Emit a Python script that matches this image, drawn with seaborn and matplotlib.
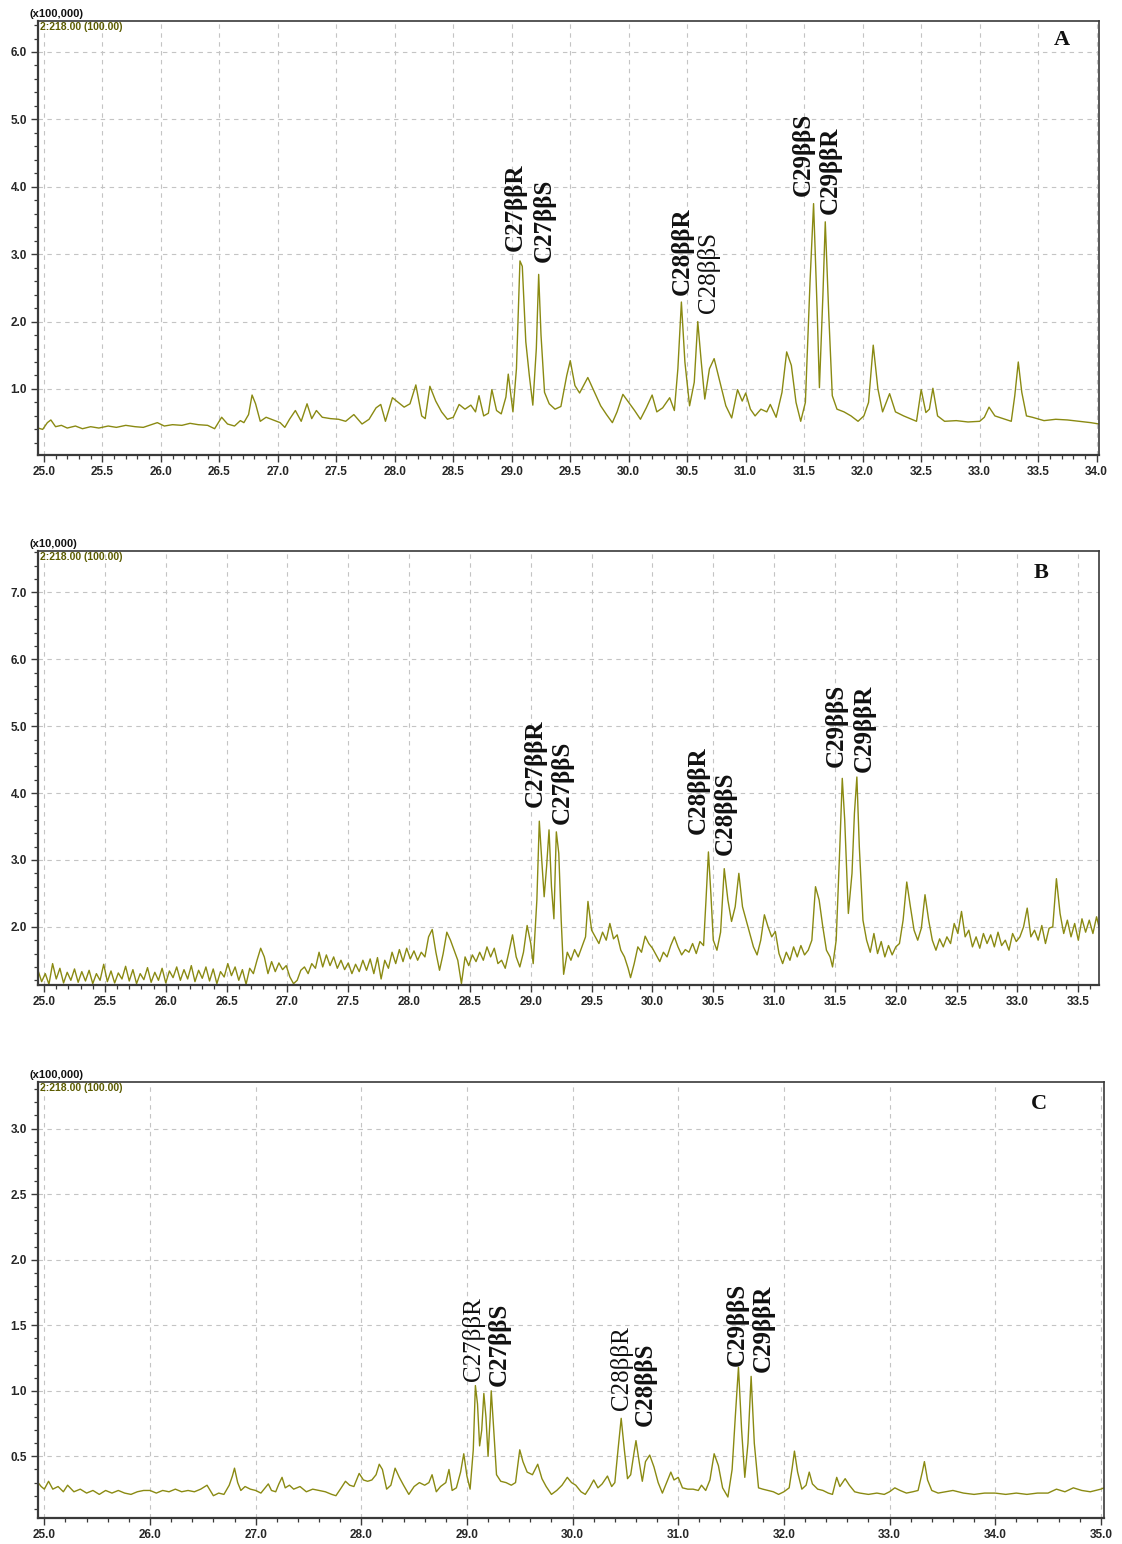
import numpy as np
import pandas as pd
import matplotlib
matplotlib.use("Agg")
import matplotlib.pyplot as plt
from matplotlib.ticker import MultipleLocator, FormatStrFormatter
import seaborn as sns

# ---------------- data ----------------
# Panel A  (intensity x100,000)
A_time = [24.95, 24.99, 25.03, 25.06, 25.10, 25.15, 25.20, 25.27, 25.33, 25.40,
          25.47, 25.55, 25.62, 25.70, 25.78, 25.85, 25.92, 25.97, 26.03, 26.10,
          26.18, 26.25, 26.32, 26.40, 26.46, 26.52, 26.57, 26.63, 26.68, 26.71,
          26.75, 26.78, 26.81, 26.85, 26.90, 26.96, 27.02, 27.06, 27.10, 27.15,
          27.20, 27.25, 27.29, 27.33, 27.38, 27.45, 27.52, 27.58, 27.65, 27.72,
          27.78, 27.84, 27.88, 27.92, 27.98, 28.03, 28.08, 28.13, 28.18, 28.23,
          28.26, 28.30, 28.35, 28.40, 28.45, 28.50, 28.55, 28.60, 28.65, 28.69,
          28.72, 28.76, 28.80, 28.83, 28.87, 28.91, 28.95, 28.97, 29.01, 29.04,
          29.07, 29.09, 29.12, 29.15, 29.18, 29.21, 29.23, 29.25, 29.28, 29.32,
          29.37, 29.42, 29.47, 29.50, 29.54, 29.58, 29.65, 29.70, 29.76, 29.81,
          29.86, 29.90, 29.95, 30.00, 30.05, 30.10, 30.15, 30.20, 30.24, 30.29,
          30.35, 30.39, 30.42, 30.45, 30.48, 30.52, 30.56, 30.59, 30.62, 30.65,
          30.69, 30.73, 30.78, 30.83, 30.88, 30.93, 30.97, 31.00, 31.04, 31.08,
          31.13, 31.18, 31.21, 31.26, 31.31, 31.35, 31.39, 31.43, 31.47, 31.51,
          31.55, 31.58, 31.61, 31.63, 31.66, 31.68, 31.71, 31.74, 31.78, 31.84,
          31.90, 31.96, 32.01, 32.05, 32.09, 32.13, 32.17, 32.23, 32.28, 32.35,
          32.42, 32.46, 32.50, 32.54, 32.57, 32.60, 32.64, 32.70, 32.80, 32.90,
          33.00, 33.04, 33.08, 33.13, 33.20, 33.27, 33.30, 33.33, 33.36, 33.40,
          33.45, 33.55, 33.65, 33.75, 33.85, 33.95, 34.02]
A_value = [0.42, 0.40, 0.50, 0.54, 0.44, 0.46, 0.42, 0.45, 0.41, 0.44,
           0.42, 0.45, 0.43, 0.46, 0.44, 0.43, 0.47, 0.50, 0.45, 0.47,
           0.46, 0.49, 0.47, 0.46, 0.41, 0.58, 0.48, 0.45, 0.53, 0.50,
           0.62, 0.91, 0.78, 0.52, 0.58, 0.54, 0.50, 0.43, 0.55, 0.68,
           0.52, 0.78, 0.56, 0.68, 0.58, 0.56, 0.55, 0.52, 0.62, 0.48,
           0.55, 0.72, 0.77, 0.52, 0.87, 0.80, 0.73, 0.78, 1.06, 0.60,
           0.56, 1.04, 0.82, 0.66, 0.55, 0.58, 0.77, 0.70, 0.76, 0.66,
           0.90, 0.60, 0.64, 0.99, 0.68, 0.63, 0.88, 1.22, 0.66, 1.30,
           2.90, 2.82, 1.70, 1.20, 0.76, 1.60, 2.70, 1.80, 0.95, 0.78,
           0.70, 0.74, 1.20, 1.42, 1.05, 0.94, 1.17, 0.98, 0.75, 0.62,
           0.50, 0.66, 0.92, 0.80, 0.68, 0.55, 0.72, 0.91, 0.66, 0.72,
           0.87, 0.68, 1.30, 2.29, 1.40, 0.75, 1.10, 2.00, 1.40, 0.85,
           1.30, 1.45, 1.10, 0.75, 0.57, 0.99, 0.82, 0.94, 0.70, 0.60,
           0.70, 0.66, 0.77, 0.58, 0.95, 1.55, 1.35, 0.80, 0.52, 0.80,
           2.60, 3.75, 2.20, 1.02, 2.40, 3.48, 2.10, 0.90, 0.70, 0.66,
           0.60, 0.52, 0.60, 0.80, 1.65, 1.00, 0.66, 0.93, 0.66, 0.60,
           0.55, 0.52, 0.99, 0.65, 0.70, 1.01, 0.60, 0.52, 0.53, 0.51,
           0.52, 0.58, 0.73, 0.60, 0.56, 0.52, 0.90, 1.40, 0.95, 0.60,
           0.58, 0.53, 0.55, 0.54, 0.52, 0.50, 0.48]

# Panel B  (intensity x10,000)
B_time = [24.95, 24.98, 25.01, 25.04, 25.07, 25.10, 25.13, 25.16, 25.19, 25.22,
          25.25, 25.28, 25.31, 25.34, 25.37, 25.40, 25.43, 25.46, 25.49, 25.52,
          25.55, 25.58, 25.61, 25.64, 25.67, 25.70, 25.73, 25.76, 25.79, 25.82,
          25.85, 25.88, 25.91, 25.94, 25.97, 26.00, 26.03, 26.06, 26.09, 26.12,
          26.15, 26.18, 26.21, 26.24, 26.27, 26.30, 26.33, 26.36, 26.39, 26.42,
          26.45, 26.48, 26.51, 26.54, 26.57, 26.60, 26.63, 26.66, 26.69, 26.72,
          26.75, 26.78, 26.81, 26.84, 26.87, 26.90, 26.93, 26.96, 26.99, 27.02,
          27.05, 27.08, 27.11, 27.14, 27.17, 27.20, 27.23, 27.26, 27.29, 27.32,
          27.35, 27.38, 27.41, 27.44, 27.47, 27.50, 27.53, 27.56, 27.59, 27.62,
          27.65, 27.68, 27.71, 27.74, 27.77, 27.80, 27.83, 27.86, 27.89, 27.92,
          27.95, 27.98, 28.01, 28.04, 28.07, 28.10, 28.13, 28.16, 28.19, 28.22,
          28.25, 28.28, 28.31, 28.34, 28.37, 28.40, 28.43, 28.46, 28.49, 28.52,
          28.55, 28.58, 28.61, 28.64, 28.67, 28.70, 28.73, 28.76, 28.79, 28.82,
          28.85, 28.88, 28.91, 28.94, 28.97, 29.00, 29.02, 29.05, 29.07, 29.09,
          29.11, 29.13, 29.15, 29.17, 29.19, 29.21, 29.23, 29.25, 29.27, 29.30,
          29.33, 29.36, 29.39, 29.42, 29.45, 29.47, 29.50, 29.53, 29.56, 29.59,
          29.62, 29.65, 29.68, 29.71, 29.74, 29.77, 29.80, 29.82, 29.85, 29.88,
          29.91, 29.94, 29.97, 30.00, 30.03, 30.06, 30.09, 30.12, 30.15, 30.18,
          30.21, 30.24, 30.27, 30.30, 30.33, 30.36, 30.39, 30.42, 30.44, 30.46,
          30.48, 30.50, 30.53, 30.56, 30.59, 30.62, 30.65, 30.68, 30.71, 30.74,
          30.77, 30.80, 30.83, 30.86, 30.89, 30.92, 30.95, 30.98, 31.01, 31.04,
          31.07, 31.10, 31.13, 31.16, 31.19, 31.22, 31.25, 31.28, 31.31, 31.34,
          31.37, 31.40, 31.43, 31.46, 31.48, 31.51, 31.54, 31.56, 31.58, 31.61,
          31.64, 31.66, 31.68, 31.70, 31.73, 31.76, 31.79, 31.82, 31.85, 31.88,
          31.91, 31.94, 31.97, 32.00, 32.03, 32.06, 32.09, 32.12, 32.15, 32.18,
          32.21, 32.24, 32.27, 32.30, 32.33, 32.36, 32.39, 32.42, 32.45, 32.48,
          32.51, 32.54, 32.57, 32.60, 32.63, 32.66, 32.69, 32.72, 32.75, 32.78,
          32.81, 32.84, 32.87, 32.90, 32.93, 32.96, 32.99, 33.02, 33.05, 33.08,
          33.11, 33.14, 33.17, 33.20, 33.23, 33.26, 33.29, 33.32, 33.35, 33.38,
          33.41, 33.44, 33.47, 33.50, 33.53, 33.56, 33.59, 33.62, 33.65, 33.67]
B_value = [1.35, 1.18, 1.30, 1.14, 1.45, 1.22, 1.38, 1.16, 1.32, 1.20,
           1.37, 1.17, 1.33, 1.19, 1.35, 1.15, 1.30, 1.20, 1.44, 1.18,
           1.34, 1.16, 1.31, 1.22, 1.41, 1.19, 1.36, 1.15, 1.30, 1.21,
           1.39, 1.17, 1.32, 1.20, 1.38, 1.16, 1.34, 1.24, 1.40, 1.20,
           1.36, 1.22, 1.42, 1.18, 1.35, 1.23, 1.40, 1.19, 1.37, 1.15,
           1.33, 1.25, 1.45, 1.27, 1.40, 1.20, 1.36, 1.14, 1.38, 1.30,
           1.50, 1.68, 1.55, 1.30, 1.48, 1.33, 1.46, 1.36, 1.42, 1.25,
           1.15, 1.20, 1.35, 1.40, 1.30, 1.45, 1.38, 1.62, 1.40, 1.58,
           1.42, 1.55, 1.38, 1.50, 1.36, 1.46, 1.30, 1.44, 1.33, 1.50,
           1.35, 1.52, 1.30, 1.54, 1.22, 1.50, 1.38, 1.62, 1.45, 1.66,
           1.48, 1.68, 1.52, 1.64, 1.50, 1.62, 1.55, 1.85, 1.96, 1.62,
           1.35, 1.60, 1.92, 1.80, 1.65, 1.50, 1.15, 1.55, 1.42, 1.58,
           1.48, 1.62, 1.50, 1.70, 1.55, 1.68, 1.45, 1.50, 1.38, 1.62,
           1.88, 1.55, 1.40, 1.62, 2.02, 1.75, 1.45, 2.40, 3.58, 3.00,
           2.45, 2.90, 3.45, 2.60, 2.12, 3.42, 3.10, 2.10, 1.29, 1.62,
           1.50, 1.66, 1.55, 1.70, 1.85, 2.38, 1.95, 1.85, 1.75, 1.92,
           1.80, 2.05, 1.82, 1.88, 1.65, 1.55, 1.38, 1.24, 1.45, 1.70,
           1.62, 1.86, 1.75, 1.68, 1.58, 1.48, 1.62, 1.55, 1.72, 1.85,
           1.70, 1.58, 1.66, 1.62, 1.75, 1.60, 1.78, 1.72, 2.40, 3.12,
           2.50, 1.80, 1.65, 1.92, 2.87, 2.40, 2.08, 2.30, 2.80, 2.30,
           2.10, 1.90, 1.70, 1.58, 1.80, 2.18, 2.00, 1.85, 1.93, 1.60,
           1.45, 1.62, 1.50, 1.70, 1.55, 1.72, 1.58, 1.65, 1.80, 2.60,
           2.40, 2.00, 1.65, 1.55, 1.40, 1.80, 3.20, 4.22, 3.60, 2.20,
           2.80, 3.70, 4.24, 3.20, 2.10, 1.80, 1.62, 1.90, 1.60, 1.78,
           1.55, 1.72, 1.58, 1.70, 1.75, 2.10, 2.67, 2.30, 1.95, 1.80,
           1.98, 2.48, 2.10, 1.80, 1.65, 1.82, 1.70, 1.85, 1.75, 2.05,
           1.90, 2.23, 1.85, 1.95, 1.70, 1.85, 1.68, 1.90, 1.75, 1.88,
           1.70, 1.92, 1.72, 1.80, 1.65, 1.90, 1.78, 1.85, 2.00, 2.28,
           1.85, 1.95, 1.80, 2.02, 1.75, 1.98, 2.00, 2.72, 2.20, 1.90,
           2.10, 1.85, 2.05, 1.80, 2.12, 1.92, 2.10, 1.90, 2.15, 2.00]

# Panel C  (intensity x100,000)
C_time = [24.94, 24.97, 25.00, 25.04, 25.08, 25.13, 25.18, 25.22, 25.28, 25.34,
          25.40, 25.46, 25.52, 25.58, 25.64, 25.70, 25.76, 25.82, 25.88, 25.94,
          26.00, 26.06, 26.12, 26.18, 26.24, 26.30, 26.36, 26.42, 26.48, 26.54,
          26.60, 26.65, 26.70, 26.75, 26.78, 26.80, 26.83, 26.86, 26.90, 26.95,
          27.00, 27.05, 27.09, 27.12, 27.15, 27.19, 27.22, 27.25, 27.28, 27.32,
          27.36, 27.42, 27.48, 27.54, 27.60, 27.66, 27.72, 27.76, 27.81, 27.85,
          27.89, 27.93, 27.98, 28.02, 28.06, 28.10, 28.14, 28.17, 28.20, 28.24,
          28.28, 28.32, 28.36, 28.40, 28.45, 28.50, 28.55, 28.60, 28.64, 28.67,
          28.71, 28.75, 28.80, 28.83, 28.86, 28.90, 28.94, 28.97, 29.00, 29.03,
          29.06, 29.08, 29.10, 29.12, 29.14, 29.16, 29.18, 29.20, 29.22, 29.23,
          29.25, 29.28, 29.32, 29.37, 29.42, 29.46, 29.50, 29.53, 29.57, 29.62,
          29.67, 29.71, 29.75, 29.80, 29.85, 29.90, 29.95, 29.99, 30.03, 30.08,
          30.12, 30.16, 30.20, 30.24, 30.28, 30.33, 30.37, 30.40, 30.43, 30.46,
          30.49, 30.52, 30.55, 30.58, 30.60, 30.63, 30.66, 30.69, 30.73, 30.77,
          30.81, 30.85, 30.89, 30.93, 30.96, 31.00, 31.04, 31.09, 31.14, 31.19,
          31.22, 31.26, 31.30, 31.34, 31.38, 31.42, 31.47, 31.51, 31.54, 31.57,
          31.60, 31.63, 31.66, 31.69, 31.72, 31.76, 31.80, 31.85, 31.90, 31.95,
          32.00, 32.05, 32.08, 32.10, 32.13, 32.17, 32.21, 32.24, 32.27, 32.32,
          32.37, 32.42, 32.46, 32.50, 32.53, 32.58, 32.62, 32.67, 32.72, 32.80,
          32.88, 32.95, 33.00, 33.05, 33.10, 33.16, 33.22, 33.27, 33.31, 33.33,
          33.36, 33.40, 33.46, 33.53, 33.60, 33.70, 33.80, 33.90, 34.00, 34.10,
          34.20, 34.30, 34.40, 34.50, 34.58, 34.66, 34.74, 34.82, 34.90, 35.00,
          35.03]
C_value = [0.30, 0.27, 0.25, 0.31, 0.25, 0.27, 0.23, 0.28, 0.23, 0.25,
           0.22, 0.24, 0.21, 0.24, 0.22, 0.24, 0.22, 0.21, 0.23, 0.24,
           0.24, 0.22, 0.24, 0.23, 0.25, 0.23, 0.24, 0.23, 0.25, 0.28,
           0.20, 0.22, 0.21, 0.28, 0.35, 0.41, 0.30, 0.24, 0.27, 0.25,
           0.24, 0.22, 0.26, 0.29, 0.24, 0.23, 0.29, 0.34, 0.26, 0.28,
           0.25, 0.27, 0.23, 0.25, 0.24, 0.23, 0.21, 0.20, 0.26, 0.31,
           0.28, 0.27, 0.37, 0.32, 0.31, 0.32, 0.36, 0.44, 0.40, 0.25,
           0.28, 0.41, 0.34, 0.28, 0.21, 0.27, 0.30, 0.28, 0.30, 0.36,
           0.23, 0.27, 0.30, 0.40, 0.24, 0.26, 0.38, 0.52, 0.35, 0.25,
           0.55, 1.04, 0.90, 0.58, 0.70, 0.98, 0.80, 0.50, 0.80, 1.00,
           0.75, 0.36, 0.31, 0.30, 0.28, 0.30, 0.55, 0.46, 0.38, 0.36,
           0.44, 0.33, 0.27, 0.21, 0.24, 0.28, 0.34, 0.30, 0.28, 0.23,
           0.21, 0.26, 0.32, 0.26, 0.29, 0.35, 0.27, 0.30, 0.55, 0.79,
           0.55, 0.33, 0.36, 0.52, 0.62, 0.46, 0.31, 0.46, 0.51, 0.42,
           0.30, 0.22, 0.30, 0.38, 0.32, 0.34, 0.26, 0.25, 0.25, 0.24,
           0.28, 0.24, 0.32, 0.52, 0.43, 0.26, 0.19, 0.40, 0.80, 1.18,
           0.70, 0.34, 0.60, 1.11, 0.60, 0.26, 0.25, 0.24, 0.23, 0.21,
           0.23, 0.26, 0.42, 0.54, 0.38, 0.25, 0.28, 0.38, 0.29, 0.25,
           0.24, 0.22, 0.21, 0.34, 0.27, 0.33, 0.28, 0.23, 0.22, 0.21,
           0.22, 0.21, 0.23, 0.26, 0.24, 0.22, 0.23, 0.24, 0.38, 0.46,
           0.32, 0.24, 0.22, 0.23, 0.24, 0.22, 0.21, 0.22, 0.22, 0.21,
           0.22, 0.21, 0.22, 0.22, 0.25, 0.23, 0.26, 0.24, 0.23, 0.25,
           0.26]

# peak labels
labels = ["C27\u03b2\u03b2R", "C27\u03b2\u03b2S", "C28\u03b2\u03b2R",
          "C28\u03b2\u03b2S", "C29\u03b2\u03b2S", "C29\u03b2\u03b2R"]
A_label_x = [29.03, 29.28, 30.46, 30.68, 31.49, 31.72]
A_label_y = [3.04, 2.89, 2.40, 2.12, 3.86, 3.60]
A_label_bold = [True, True, True, False, True, True]
B_label_x = [29.04, 29.26, 30.38, 30.60, 31.51, 31.74]
B_label_y = [3.79, 3.54, 3.39, 3.07, 4.39, 4.31]
B_label_bold = [True, True, True, True, True, True]
C_label_x = [29.06, 29.31, 30.46, 30.69, 31.56, 31.80]
C_label_y = [1.077, 1.04, 0.85, 0.73, 1.19, 1.14]
C_label_bold = [False, True, False, True, True, True]

panel_letters = ["A", "B", "C"]
scale_labels = ["(x100,000)", "(x10,000)", "(x100,000)"]
trace_tag = "2:218.00 (100.00)"

# ---------------- styling / layout ----------------
sns.set_theme(style="white")
plt.rcParams["font.family"] = ["Liberation Sans", "DejaVu Sans"]

LINE = "#8a8a12"
GRID = "#c4c4c4"
SPINE = "#3a3a3a"

W, H = 1122, 1544
fig = plt.figure(figsize=(W / 100, H / 100), dpi=100)

def frac_box(l, t, r, b):
    return [l / W, 1 - b / H, (r - l) / W, (b - t) / H]

panels = [
    dict(box=frac_box(38, 21, 1099, 455), t=A_time, v=A_value,
         xlim=(24.95, 34.02), ylim=(0.02, 6.46), xmaj=0.5, xmin=0.1,
         ymaj=1.0, ymin=0.2, lx=A_label_x, ly=A_label_y, lb=A_label_bold),
    dict(box=frac_box(38, 551, 1099, 985), t=B_time, v=B_value,
         xlim=(24.95, 33.67), ylim=(1.13, 7.62), xmaj=0.5, xmin=0.1,
         ymaj=1.0, ymin=0.2, lx=B_label_x, ly=B_label_y, lb=B_label_bold),
    dict(box=frac_box(38, 1082, 1104, 1518), t=C_time, v=C_value,
         xlim=(24.94, 35.03), ylim=(0.03, 3.355), xmaj=1.0, xmin=0.2,
         ymaj=0.5, ymin=0.1, lx=C_label_x, ly=C_label_y, lb=C_label_bold),
]

for i, p in enumerate(panels):
    ax = fig.add_axes(p["box"])
    df = pd.DataFrame({"time": p["t"], "intensity": p["v"]})
    sns.lineplot(data=df, x="time", y="intensity", ax=ax, color=LINE,
                 linewidth=1.0, estimator=None, sort=False)
    ax.set_xlim(*p["xlim"])
    ax.set_ylim(*p["ylim"])
    ax.set_xlabel("")
    ax.set_ylabel("")
    ax.xaxis.set_major_locator(MultipleLocator(p["xmaj"]))
    ax.xaxis.set_minor_locator(MultipleLocator(p["xmin"]))
    ax.yaxis.set_major_locator(MultipleLocator(p["ymaj"]))
    ax.yaxis.set_minor_locator(MultipleLocator(p["ymin"]))
    ax.xaxis.set_major_formatter(FormatStrFormatter("%.1f"))
    ax.yaxis.set_major_formatter(FormatStrFormatter("%.1f"))
    ax.grid(True, which="major", color=GRID, linestyle=(0, (4, 4)), linewidth=0.8)
    ax.set_axisbelow(True)
    ax.tick_params(axis="both", which="major", direction="out", length=5,
                   width=1.0, color=SPINE, labelsize=8.5, pad=3,
                   bottom=True, left=True)
    ax.tick_params(axis="both", which="minor", direction="out", length=3,
                   width=0.9, color=SPINE, bottom=True, left=True)
    for lab in ax.get_xticklabels() + ax.get_yticklabels():
        lab.set_fontweight("bold")
    for side, sp in ax.spines.items():
        sp.set_visible(True)
        sp.set_color(SPINE)
        sp.set_linewidth(1.6 if side in ("left", "bottom") else 1.2)

    # scale label above the frame, trace tag inside
    ax.text(-0.008, 1.005, scale_labels[i], transform=ax.transAxes,
            ha="left", va="bottom", fontsize=8, fontweight="bold", color="#111111")
    ax.text(0.002, 0.997, trace_tag, transform=ax.transAxes,
            ha="left", va="top", fontsize=7.5, fontweight="bold", color="#5c5c00")

    # panel letter
    lx_letter = {0: 1062, 1: 1041, 2: 1039}[i]
    ly_letter = {0: 40, 1: 573, 2: 1104}[i]
    fig.text(lx_letter / W, 1 - ly_letter / H, panel_letters[i],
             ha="center", va="center", fontsize=16, fontweight="bold",
             family=["Liberation Serif", "DejaVu Serif"], color="#111111")

    # peak labels
    for lab, x, y, b in zip(labels, p["lx"], p["ly"], p["lb"]):
        ax.text(x, y, lab, rotation=90, ha="center", va="bottom",
                fontsize=18, fontweight="bold" if b else "normal",
                family=["Liberation Serif", "DejaVu Serif"], color="#111111")

fig.savefig("out.png", dpi=100, facecolor="white")
